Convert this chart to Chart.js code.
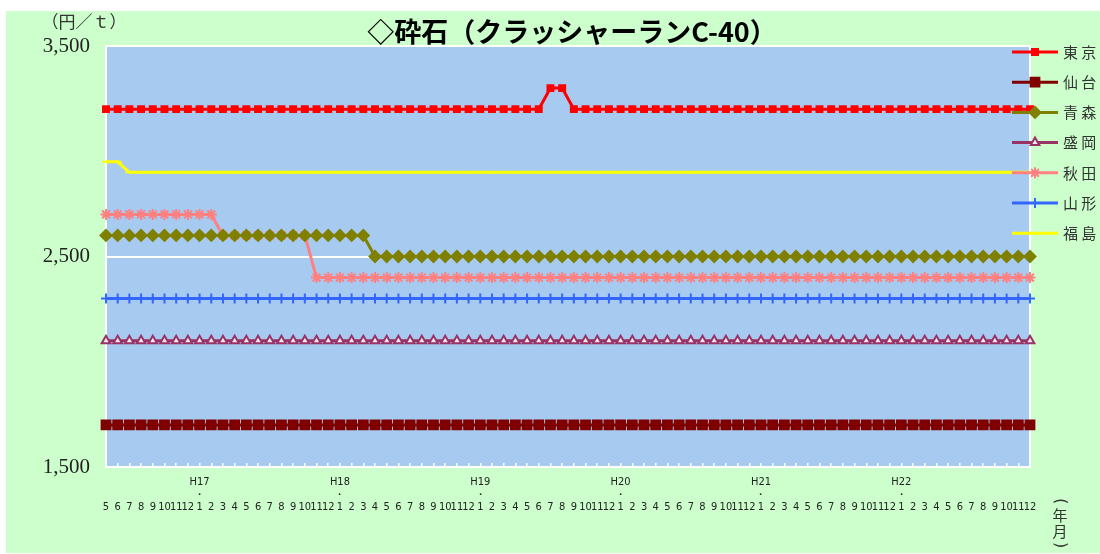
<!DOCTYPE html>
<html>
<head>
<meta charset="utf-8">
<script src="https://cdn.jsdelivr.net/npm/chart.js@4.4.1/dist/chart.umd.min.js"></script>
<style>
  html, body { margin: 0; padding: 0; background: #fff; }
</style>
</head>
<body>
<canvas id="chart" width="1100" height="554"></canvas>
<script>
// categories: H16.5 .. H22.12
var firstMonths = [5, 6, 7, 8, 9, 10, 11, 12];
var years = ['H17', 'H18', 'H19', 'H20', 'H21', 'H22'];
var months = [1, 2, 3, 4, 5, 6, 7, 8, 9, 10, 11, 12];

var seriesNames = ['東京', '仙台', '青森', '盛岡', '秋田', '山形', '福島'];

var tokyo = [
  3200, 3200, 3200, 3200, 3200, 3200, 3200, 3200,
  3200, 3200, 3200, 3200, 3200, 3200, 3200, 3200, 3200, 3200, 3200, 3200,
  3200, 3200, 3200, 3200, 3200, 3200, 3200, 3200, 3200, 3200, 3200, 3200,
  3200, 3200, 3200, 3200, 3200, 3200, 3300, 3300, 3200, 3200, 3200, 3200,
  3200, 3200, 3200, 3200, 3200, 3200, 3200, 3200, 3200, 3200, 3200, 3200,
  3200, 3200, 3200, 3200, 3200, 3200, 3200, 3200, 3200, 3200, 3200, 3200,
  3200, 3200, 3200, 3200, 3200, 3200, 3200, 3200, 3200, 3200, 3200, 3200
];
var sendai = [
  1700, 1700, 1700, 1700, 1700, 1700, 1700, 1700,
  1700, 1700, 1700, 1700, 1700, 1700, 1700, 1700, 1700, 1700, 1700, 1700,
  1700, 1700, 1700, 1700, 1700, 1700, 1700, 1700, 1700, 1700, 1700, 1700,
  1700, 1700, 1700, 1700, 1700, 1700, 1700, 1700, 1700, 1700, 1700, 1700,
  1700, 1700, 1700, 1700, 1700, 1700, 1700, 1700, 1700, 1700, 1700, 1700,
  1700, 1700, 1700, 1700, 1700, 1700, 1700, 1700, 1700, 1700, 1700, 1700,
  1700, 1700, 1700, 1700, 1700, 1700, 1700, 1700, 1700, 1700, 1700, 1700
];
var aomori = [
  2600, 2600, 2600, 2600, 2600, 2600, 2600, 2600,
  2600, 2600, 2600, 2600, 2600, 2600, 2600, 2600, 2600, 2600, 2600, 2600,
  2600, 2600, 2600, 2500, 2500, 2500, 2500, 2500, 2500, 2500, 2500, 2500,
  2500, 2500, 2500, 2500, 2500, 2500, 2500, 2500, 2500, 2500, 2500, 2500,
  2500, 2500, 2500, 2500, 2500, 2500, 2500, 2500, 2500, 2500, 2500, 2500,
  2500, 2500, 2500, 2500, 2500, 2500, 2500, 2500, 2500, 2500, 2500, 2500,
  2500, 2500, 2500, 2500, 2500, 2500, 2500, 2500, 2500, 2500, 2500, 2500
];
var morioka = [
  2100, 2100, 2100, 2100, 2100, 2100, 2100, 2100,
  2100, 2100, 2100, 2100, 2100, 2100, 2100, 2100, 2100, 2100, 2100, 2100,
  2100, 2100, 2100, 2100, 2100, 2100, 2100, 2100, 2100, 2100, 2100, 2100,
  2100, 2100, 2100, 2100, 2100, 2100, 2100, 2100, 2100, 2100, 2100, 2100,
  2100, 2100, 2100, 2100, 2100, 2100, 2100, 2100, 2100, 2100, 2100, 2100,
  2100, 2100, 2100, 2100, 2100, 2100, 2100, 2100, 2100, 2100, 2100, 2100,
  2100, 2100, 2100, 2100, 2100, 2100, 2100, 2100, 2100, 2100, 2100, 2100
];
var akita = [
  2700, 2700, 2700, 2700, 2700, 2700, 2700, 2700,
  2700, 2700, 2600, 2600, 2600, 2600, 2600, 2600, 2600, 2600, 2400, 2400,
  2400, 2400, 2400, 2400, 2400, 2400, 2400, 2400, 2400, 2400, 2400, 2400,
  2400, 2400, 2400, 2400, 2400, 2400, 2400, 2400, 2400, 2400, 2400, 2400,
  2400, 2400, 2400, 2400, 2400, 2400, 2400, 2400, 2400, 2400, 2400, 2400,
  2400, 2400, 2400, 2400, 2400, 2400, 2400, 2400, 2400, 2400, 2400, 2400,
  2400, 2400, 2400, 2400, 2400, 2400, 2400, 2400, 2400, 2400, 2400, 2400
];
var yamagata = [
  2300, 2300, 2300, 2300, 2300, 2300, 2300, 2300,
  2300, 2300, 2300, 2300, 2300, 2300, 2300, 2300, 2300, 2300, 2300, 2300,
  2300, 2300, 2300, 2300, 2300, 2300, 2300, 2300, 2300, 2300, 2300, 2300,
  2300, 2300, 2300, 2300, 2300, 2300, 2300, 2300, 2300, 2300, 2300, 2300,
  2300, 2300, 2300, 2300, 2300, 2300, 2300, 2300, 2300, 2300, 2300, 2300,
  2300, 2300, 2300, 2300, 2300, 2300, 2300, 2300, 2300, 2300, 2300, 2300,
  2300, 2300, 2300, 2300, 2300, 2300, 2300, 2300, 2300, 2300, 2300, 2300
];
var fukushima = [
  2950, 2950, 2900, 2900, 2900, 2900, 2900, 2900,
  2900, 2900, 2900, 2900, 2900, 2900, 2900, 2900, 2900, 2900, 2900, 2900,
  2900, 2900, 2900, 2900, 2900, 2900, 2900, 2900, 2900, 2900, 2900, 2900,
  2900, 2900, 2900, 2900, 2900, 2900, 2900, 2900, 2900, 2900, 2900, 2900,
  2900, 2900, 2900, 2900, 2900, 2900, 2900, 2900, 2900, 2900, 2900, 2900,
  2900, 2900, 2900, 2900, 2900, 2900, 2900, 2900, 2900, 2900, 2900, 2900,
  2900, 2900, 2900, 2900, 2900, 2900, 2900, 2900, 2900, 2900, 2900, 2900
];
var yTicks = [1500, 2500, 3500];

// multi-line labels: year, dot, month (year only on January)
var labels = [];
firstMonths.forEach(function (m) { labels.push(['', '', String(m)]); });
years.forEach(function (y) {
  months.forEach(function (m) {
    labels.push(m === 1 ? [y, '・', String(m)] : ['', '', String(m)]);
  });
});

function line(label, data, color, style, radius, fill) {
  return {
    label: label,
    data: data,
    borderColor: color,
    backgroundColor: color,
    borderWidth: 3,
    pointStyle: style,
    pointRadius: radius,
    pointHoverRadius: radius,
    pointBorderColor: color,
    pointBackgroundColor: fill || color,
    pointBorderWidth: 2,
    tension: 0,
    clip: false
  };
}

var bgPlugin = {
  id: 'bg',
  beforeDraw: function (chart) {
    var ctx = chart.ctx, a = chart.chartArea;
    ctx.save();
    ctx.fillStyle = '#CCFFCC';
    ctx.fillRect(6, 11, 1094, 542);
    ctx.fillStyle = '#A6CAF0';
    ctx.fillRect(a.left, a.top, a.right - a.left, a.bottom - a.top);
    ctx.restore();
  },
  beforeDatasetsDraw: function (chart) {
    var ctx = chart.ctx, a = chart.chartArea;
    ctx.save();
    ctx.strokeStyle = '#ffffff';
    ctx.lineWidth = 2;
    ctx.strokeRect(a.left, a.top, a.right - a.left, a.bottom - a.top);
    ctx.restore();
  },
  afterDraw: function (chart) {
    var ctx = chart.ctx;
    ctx.save();
    // title
    ctx.fillStyle = '#000';
    ctx.font = 'bold 27px "Noto Sans CJK JP"';
    ctx.textAlign = 'center';
    ctx.textBaseline = 'middle';
    ctx.fillText('◇砕石（クラッシャーランC-40）', 572, 32);
    // units
    ctx.fillStyle = '#333';
    ctx.font = '17px "Noto Sans CJK JP"';
    ctx.fillText('（円／ｔ）', 84, 22);
    // vertical (年月)
    ctx.font = '15px "Noto Sans CJK JP"';
    ctx.fillText('年', 1060, 515);
    ctx.fillText('月', 1060, 531);
    [['(', 501], [')', 545]].forEach(function (p) {
      ctx.save();
      ctx.translate(1060, p[1]);
      ctx.rotate(Math.PI / 2);
      ctx.font = '16px "DejaVu Sans"';
      ctx.fillText(p[0], 0, 0);
      ctx.restore();
    });
    // legend
    chart.data.datasets.forEach(function (ds, i) {
      var y = 52 + i * 30.2;
      ctx.strokeStyle = ds.borderColor;
      ctx.lineWidth = ds.borderWidth;
      ctx.beginPath();
      ctx.moveTo(1012, y);
      ctx.lineTo(1058, y);
      ctx.stroke();
      ctx.fillStyle = ds.pointBackgroundColor;
      ctx.strokeStyle = ds.pointBorderColor;
      ctx.lineWidth = ds.pointBorderWidth;
      Chart.helpers.drawPoint(ctx, {
        pointStyle: ds.pointStyle, radius: ds.pointRadius, rotation: 0, borderWidth: ds.pointBorderWidth
      }, 1035, y);
      ctx.fillStyle = '#333';
      ctx.font = '15px "Noto Sans CJK JP"';
      ctx.textAlign = 'left';
      ctx.fillText(ds.label.split('').join(' '), 1063, y);
    });
    ctx.restore();
  }
};

new Chart(document.getElementById('chart'), {
  type: 'line',
  data: {
    labels: labels,
    datasets: [
      line(seriesNames[0], tokyo, '#FF0000', 'rect', 4.2),
      line(seriesNames[1], sendai, '#800000', 'rect', 6.2),
      line(seriesNames[2], aomori, '#808000', 'rectRot', 5.5),
      line(seriesNames[3], morioka, '#993366', 'triangle', 5, '#F0E6F0'),
      line(seriesNames[4], akita, '#FF8080', 'star', 5.5),
      line(seriesNames[5], yamagata, '#3366FF', 'cross', 5),
      line(seriesNames[6], fukushima, '#FFFF00', 'line', 4)
    ]
  },
  options: {
    responsive: false,
    devicePixelRatio: 1,
    animation: false,
    events: [],
    layout: { padding: { left: 36, right: 70, top: 46, bottom: 27 } },
    plugins: {
      legend: { display: false },
      title: { display: false },
      tooltip: { enabled: false }
    },
    scales: {
      x: {
        offset: false,
        afterFit: function (s) { s.height = 60; },
        grid: {
          display: true,
          drawOnChartArea: false,
          drawTicks: true,
          tickLength: -4,
          color: '#ffffff',
          lineWidth: 1.5
        },
        border: { display: false },
        ticks: {
          autoSkip: false,
          maxRotation: 0,
          minRotation: 0,
          padding: 13,
          color: '#222',
          font: { family: '"Liberation Sans Narrow", "DejaVu Sans Condensed", sans-serif', size: 11, lineHeight: 1.15 }
        }
      },
      y: {
        min: yTicks[0],
        max: yTicks[yTicks.length - 1],
        afterFit: function (s) { s.width = 70; },
        afterBuildTicks: function (s) { s.ticks = yTicks.map(function (v) { return { value: v }; }); },
        grid: { color: '#ffffff', lineWidth: 2, drawTicks: false },
        border: { display: false },
        ticks: {
          padding: 16,
          color: '#222',
          font: { family: '"Liberation Serif", serif', size: 21 },
          callback: function (v) { return v.toLocaleString('en-US'); }
        }
      }
    }
  },
  plugins: [bgPlugin]
});
</script>
</body>
</html>
